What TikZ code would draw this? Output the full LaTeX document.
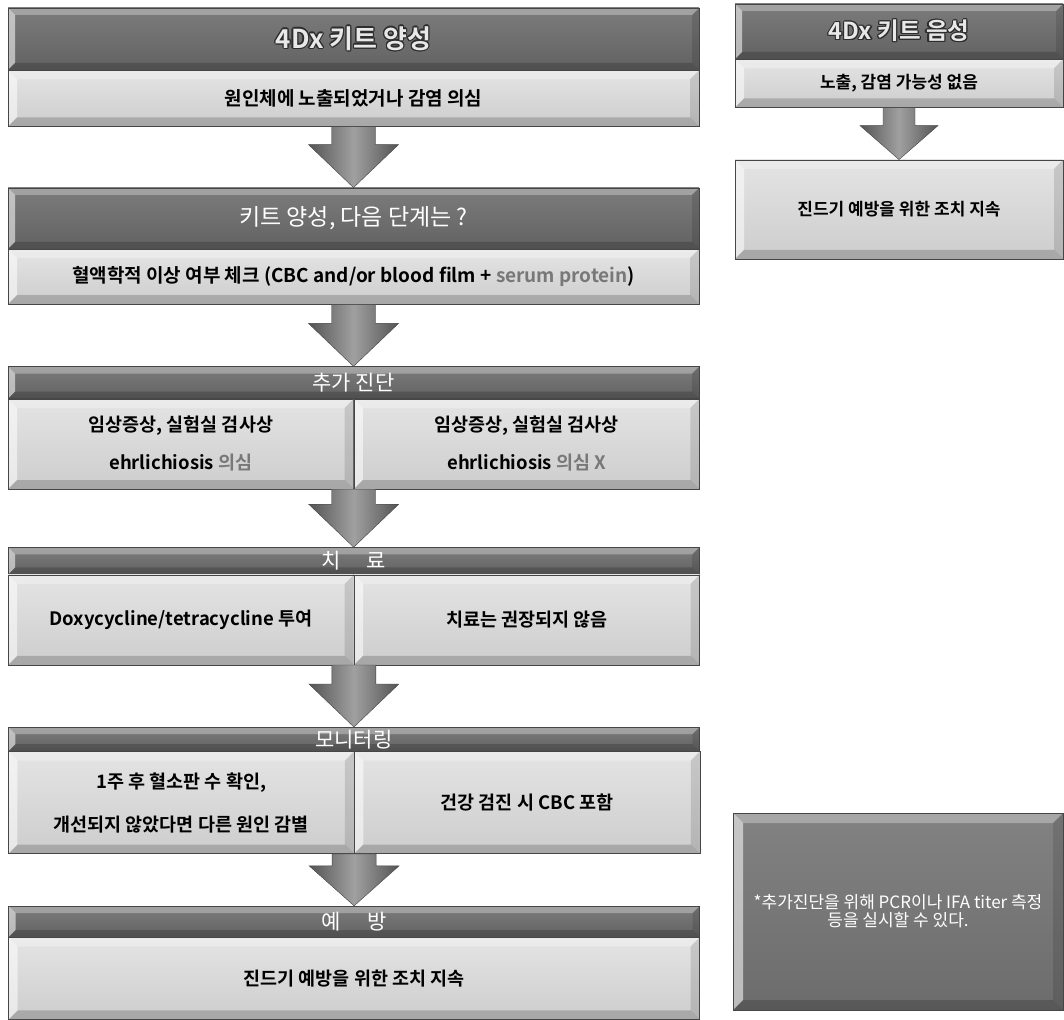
\documentclass[tikz,border=0pt]{standalone}
\usepackage{fontspec}
\setmainfont{Noto Sans CJK KR}[BoldFont={Noto Sans CJK KR Bold}]
\usepackage[copies]{contour}
\contourlength{1.2pt}
\contournumber{12}
\usetikzlibrary{calc, positioning}

\definecolor{hdrtop}{RGB}{124,124,124}
\definecolor{hdrbot}{RGB}{98,98,98}
\definecolor{hdrlight}{RGB}{232,232,232}
\definecolor{bodytop}{RGB}{228,228,228}
\definecolor{bodybot}{RGB}{205,205,205}
\definecolor{edgecol}{RGB}{70,70,70}
\definecolor{inkcol}{RGB}{45,45,45}
\definecolor{softtext}{RGB}{120,120,120}
\definecolor{arrowdark}{RGB}{84,84,84}
\definecolor{arrowlight}{RGB}{160,160,160}
\definecolor{notetop}{RGB}{130,130,130}
\definecolor{notebot}{RGB}{108,108,108}

\newcommand{\outl}[1]{\contour{inkcol}{\textcolor{hdrlight}{#1}}}

\tikzset{bevel/.style={path picture={
  \path (path picture bounding box.north west) coordinate (bvnw)
        (path picture bounding box.north east) coordinate (bvne)
        (path picture bounding box.south west) coordinate (bvsw)
        (path picture bounding box.south east) coordinate (bvse);
  \fill[white, opacity=.55] (bvnw) -- ($(bvnw)+(#1,-#1)$) -- ($(bvsw)+(#1,#1)$) -- (bvsw) -- cycle;
  \fill[white, opacity=.3] (bvnw) -- (bvne) -- ($(bvne)+(-#1,-#1)$) -- ($(bvnw)+(#1,-#1)$) -- cycle;
  \fill[black, opacity=.12] (bvne) -- ($(bvne)+(-#1,-#1)$) -- ($(bvse)+(-#1,#1)$) -- (bvse) -- cycle;
  \fill[black, opacity=.18] (bvsw) -- ($(bvsw)+(#1,#1)$) -- ($(bvse)+(-#1,#1)$) -- (bvse) -- cycle;
  }}, bevel/.default=9pt}

\begin{document}
\begin{tikzpicture}[x=1pt, y=-1pt, node distance=0pt,
    hdr/.style={draw=edgecol, top color=hdrtop, bottom color=hdrbot, text=white,
      inner sep=0pt, font=\fontsize{21}{24}\selectfont, bevel=7pt},
    cell/.style={draw=edgecol, top color=bodytop, bottom color=bodybot, inner sep=0pt,
      align=center, font=\bfseries\fontsize{18.5}{38}\selectfont, bevel},
    note/.style={draw=edgecol, top color=notetop, bottom color=notebot, text=white,
      inner sep=0pt, align=center, font=\fontsize{17}{18}\selectfont, bevel=10pt},
    blockarrow/.style n args={3}{draw=arrowdark!80!black, line width=0.4pt,
      left color=arrowdark, right color=arrowdark, middle color=arrowlight,
      to path={let \p1=(\tikztostart), \p2=(\tikztotarget) in
        (\x1-#1,\y1) -- (\x1+#1,\y1) -- (\x1+#1,\y2+#3) -- (\x1+#2,\y2+#3)
        -- (\x1,\y2) -- (\x1-#2,\y2+#3) -- (\x1-#1,\y2+#3) -- cycle}}]
  \fill[white] (0,0) rectangle (1064,1019);
  \useasboundingbox (0,0) rectangle (1064,1019);

  % left column
  \node[hdr, minimum width=691, minimum height=62, font=\bfseries\fontsize{26}{28}\selectfont] (pos) at (353.5,39) {\outl{4Dx 키트 양성}};
  \node[cell, minimum width=691, minimum height=56, font=\bfseries\fontsize{19}{24}\selectfont, below=of pos] (posbody) {원인체에 노출되었거나 감염 의심};
  \node[hdr, minimum width=691, minimum height=61, font=\fontsize{23}{26}\selectfont, below=61pt of posbody] (next) {키트 양성, 다음 단계는 ?};
  \node[cell, minimum width=691, minimum height=55, font=\bfseries\fontsize{19}{24}\selectfont, below=of next] (nextbody) {혈액학적 이상 여부 체크 (CBC and/or blood film + \textcolor{softtext}{serum protein})};

  \node[hdr, minimum width=691, minimum height=32, below=62pt of nextbody] (extra) {추가 진단};
  \node[cell, minimum width=345.5, minimum height=90, below right=0pt and 0pt of extra.south west] (extraL) {임상증상, 실험실 검사상\\ehrlichiosis \textcolor{softtext}{의심}};
  \node[cell, minimum width=345.5, minimum height=90, right=of extraL] (extraR) {임상증상, 실험실 검사상\\ehrlichiosis \textcolor{softtext}{의심 X}};

  \node[hdr, minimum width=691, minimum height=27, below=58pt of extraL.south east] (cure) {치\hspace{26pt}료};
  \node[cell, minimum width=345.5, minimum height=90, below right=0pt and 0pt of cure.south west] (cureL) {Doxycycline/tetracycline 투여};
  \node[cell, minimum width=345.5, minimum height=90, right=of cureL] (cureR) {치료는 권장되지 않음};

  \node[hdr, minimum width=691, minimum height=24, below=62pt of cureL.south east] (watch) {모니터링};
  \node[cell, minimum width=345.5, minimum height=102, font=\bfseries\fontsize{18.5}{43}\selectfont, below right=0pt and 0pt of watch.south west] (watchL) {1주 후 혈소판 수 확인,\\개선되지 않았다면 다른 원인 감별};
  \node[cell, minimum width=345.5, minimum height=102, right=of watchL] (watchR) {건강 검진 시 CBC 포함};

  \node[hdr, minimum width=691, minimum height=31, below=52pt of watchL.south east] (guard) {예\hspace{26pt}방};
  \node[cell, minimum width=691, minimum height=82, below=of guard] (guardbody) {진드기 예방을 위한 조치 지속};

  % right column
  \node[hdr, minimum width=328, minimum height=55, font=\bfseries\fontsize{23.5}{26}\selectfont] (neg) at (899,31.5) {\outl{4Dx 키트 음성}};
  \node[cell, minimum width=328, minimum height=48, font=\bfseries\fontsize{17}{20}\selectfont, below=of neg] (negbody) {노출, 감염 가능성 없음};
  \node[cell, minimum width=328, minimum height=99, font=\bfseries\fontsize{17}{20}\selectfont, below=52pt of negbody] (tick) {진드기 예방을 위한 조치 지속};
  \node[note, minimum width=330, minimum height=197] (remark) at (898,911.5) {*추가진단을 위해 PCR이나 IFA titer 측정\\등을 실시할 수 있다.};

  % arrows
  \path[blockarrow={22pt}{45pt}{43pt}] (posbody.south) to (next.north);
  \path[blockarrow={22pt}{45pt}{43pt}] (nextbody.south) to (extra.north);
  \path[blockarrow={22pt}{45pt}{43pt}] (extraL.south east) to (cure.north);
  \path[blockarrow={22pt}{45pt}{43pt}] (cureL.south east) to (watch.north);
  \path[blockarrow={22pt}{45pt}{40pt}] (watchL.south east) to (guard.north);
  \path[blockarrow={16pt}{39pt}{34pt}] (negbody.south) to (tick.north);
\end{tikzpicture}
\end{document}
